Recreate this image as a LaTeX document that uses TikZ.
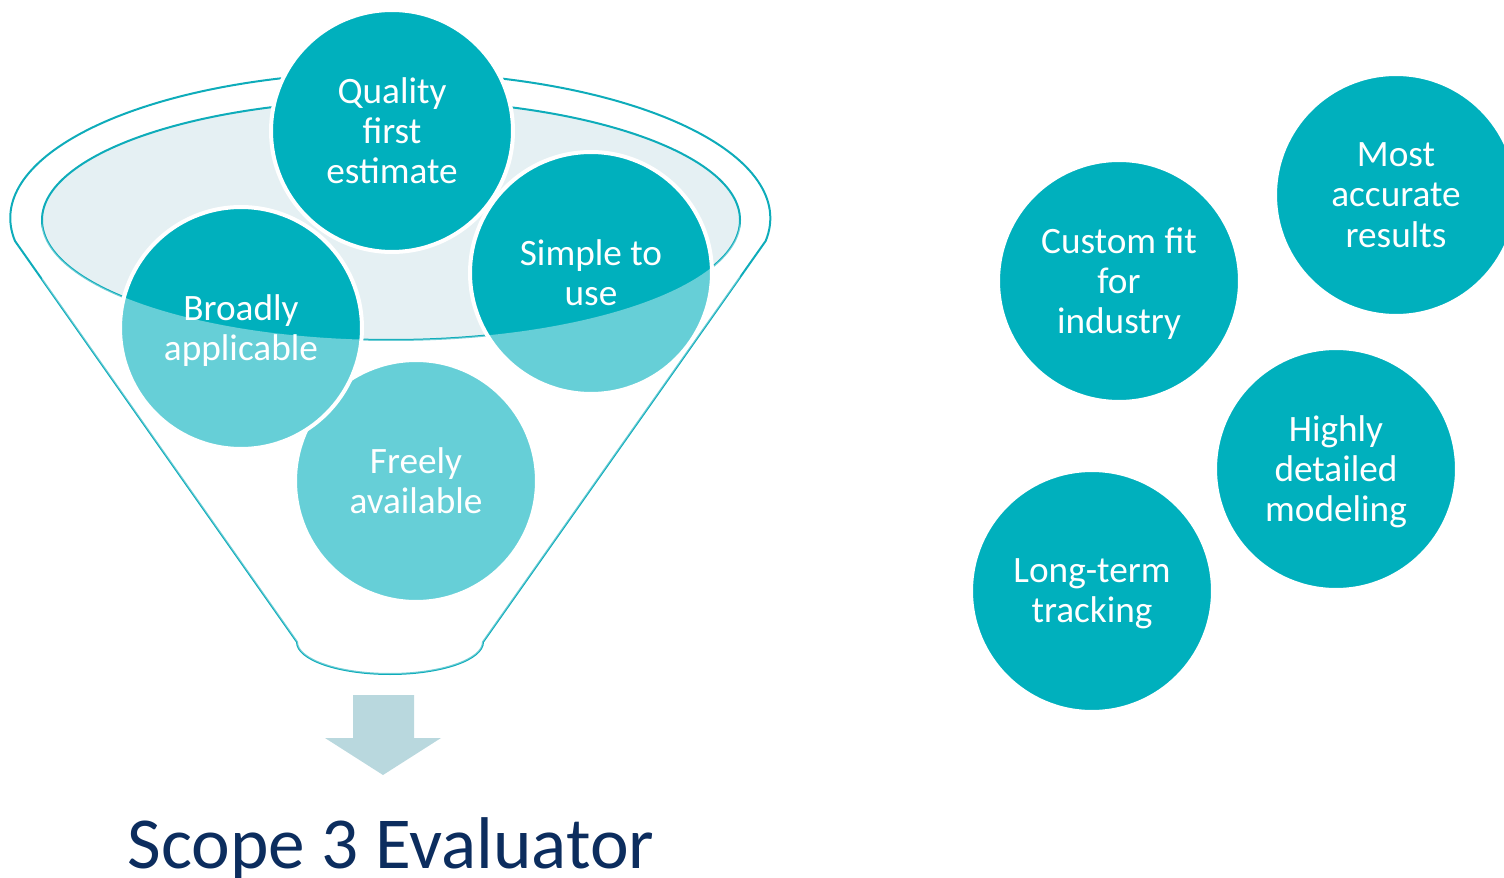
\documentclass[tikz,border=0pt]{standalone}
\usepackage{fontspec}
\setmainfont{Carlito}
\definecolor{tealdark}{RGB}{0,176,189}
\definecolor{tealline}{RGB}{14,172,186}
\definecolor{funnelfill}{RGB}{229,240,243}
\definecolor{arrowblue}{RGB}{185,216,222}
\definecolor{navy}{RGB}{12,45,94}
\tikzstyle{bubble}=[circle, fill=tealdark, draw=white, line width=0.08cm, minimum size=4.84cm, inner sep=0pt, text=white, align=center, text depth=0pt, font=\fontsize{21.2}{22.8}\selectfont]
\tikzstyle{rim}=[draw=tealline, line width=0.04cm]
\begin{document}
\begin{tikzpicture}[x=0.02cm, y=0.02cm]
\useasboundingbox (0,0) rectangle (1504,-878);
% funnel
\draw [rim] (15,-241) arc [start angle=189, end angle=-9, x radius=380, y radius=146] -- (483,-642) arc [start angle=0, end angle=-180, x radius=93, y radius=32] -- cycle;
\draw [rim, fill=funnelfill] (391,-220) ellipse [x radius=349, y radius=120];
% what goes in
\node [bubble] (free) at (416,-481) {Freely\\available};
\node [bubble] (broad) at (241,-328) {Broadly\\applicable};
\node [bubble] (quality) at (392,-131) {Quality\\first\\estimate};
\node [bubble] (simple) at (591,-273) {Simple to\\use};
% front of the funnel
\begin{scope}
\clip (15,-241) arc [start angle=189, end angle=-9, x radius=380, y radius=146] -- (483,-642) arc [start angle=0, end angle=-180, x radius=93, y radius=32] -- cycle;
\fill [white, opacity=0.4] (42,-220) arc [start angle=180, end angle=360, x radius=349, y radius=120] -- (740,-878) -- (42,-878) -- cycle;
\end{scope}
\fill [arrowblue] (353,-695) -- (414,-695) -- (414,-738) -- (441,-738) -- (383,-775) -- (325,-738) -- (353,-738) -- cycle;
\node [anchor=base, text=navy, font=\fontsize{41.7}{48}\selectfont] (tool) at (391,-868) {Scope 3 Evaluator};
% left out
\node [bubble] (custom) at (1119,-281) {Custom fit\\for\\industry};
\node [bubble] (accurate) at (1396,-195) {Most\\accurate\\results};
\node [bubble] (detail) at (1336,-469) {Highly\\detailed\\modeling};
\node [bubble] (track) at (1092,-591) {Long-term\\tracking};
\end{tikzpicture}
\end{document}
